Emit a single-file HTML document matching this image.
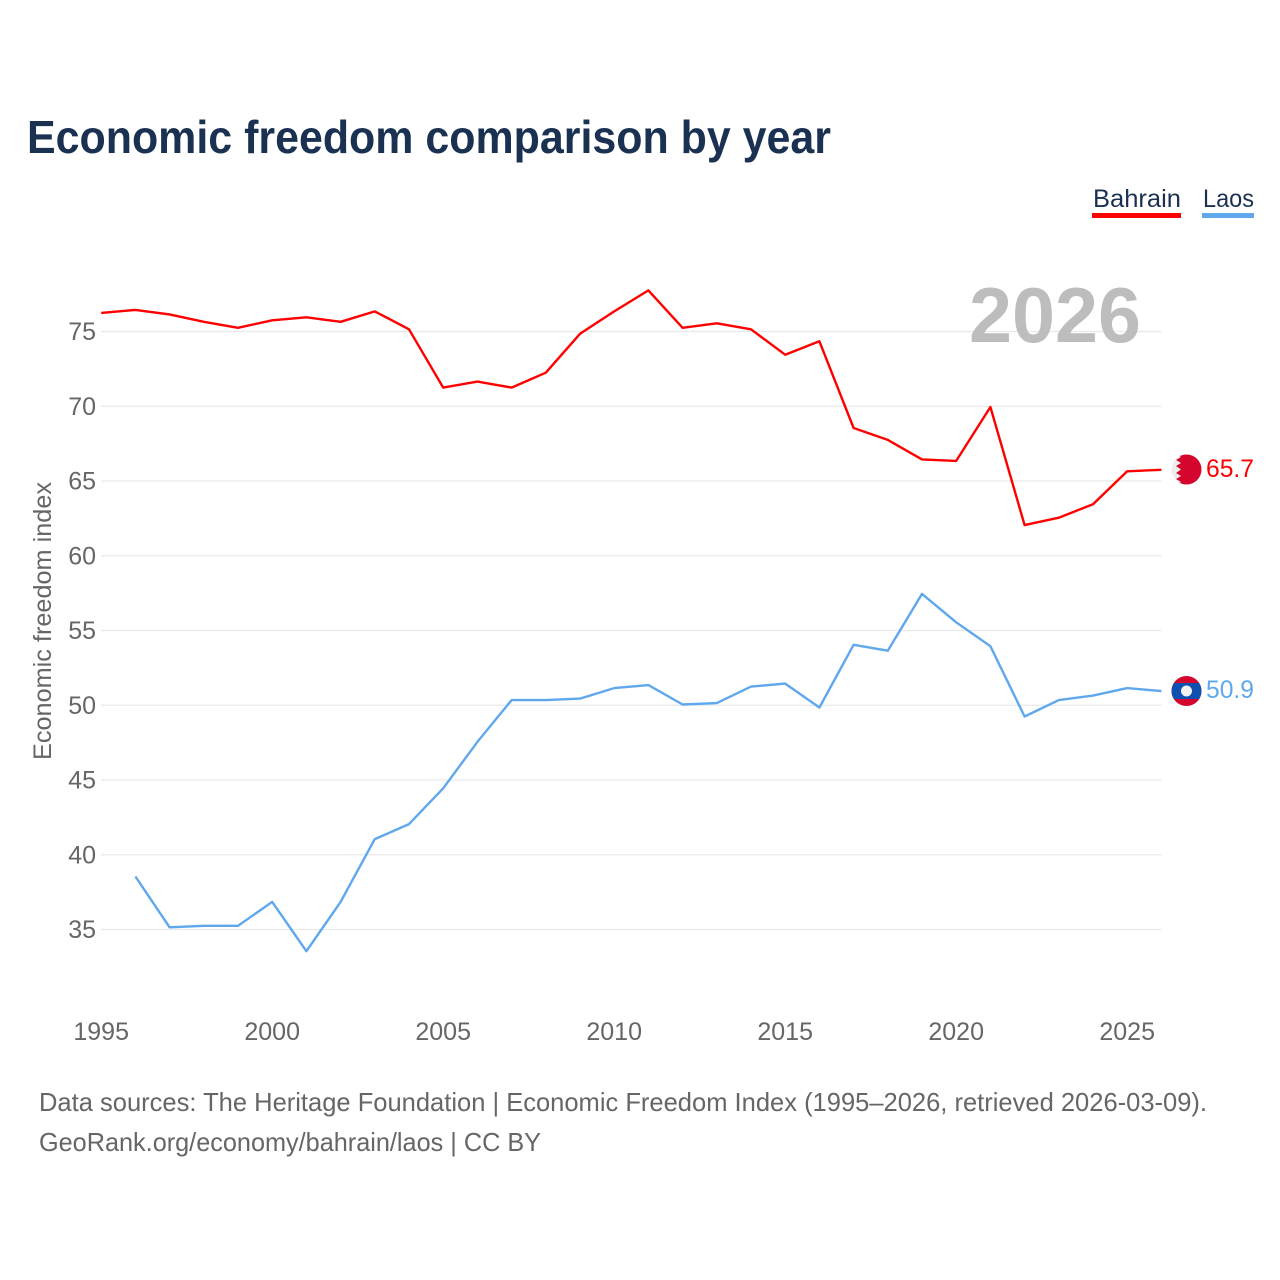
<!DOCTYPE html>
<html lang="en">
<head>
<meta charset="utf-8">
<title>Economic freedom comparison by year</title>
<style>
html,body{margin:0;padding:0;background:#fff;width:1280px;height:1280px;overflow:hidden}
svg{display:block}
text{font-family:"Liberation Sans",sans-serif}
</style>
</head>
<body>
<svg id="chart" xmlns="http://www.w3.org/2000/svg" width="1280" height="1280" viewBox="0 0 1280 1280">
  <defs>
    <clipPath id="clip-bahrain"><circle cx="1186.5" cy="469.5" r="15"/></clipPath>
    <clipPath id="clip-laos"><circle cx="1186.5" cy="691" r="15"/></clipPath>
  </defs>
  <rect width="1280" height="1280" fill="#fff"/>
  <text x="27" y="153" font-size="46" font-weight="700" fill="#1a3152" textLength="804" lengthAdjust="spacingAndGlyphs">Economic freedom comparison by year</text>

  <g>
    <text x="1093" y="207" font-size="25" fill="#1a3152" textLength="88" lengthAdjust="spacingAndGlyphs">Bahrain</text>
    <rect x="1092" y="213" width="89" height="5" fill="#ff0000"/>
  </g>
  <g>
    <text x="1203" y="207" font-size="25" fill="#1a3152" textLength="51" lengthAdjust="spacingAndGlyphs">Laos</text>
    <rect x="1202" y="213" width="52" height="5" fill="#5fa8ee"/>
  </g>

  <g id="grid"></g>
  <g id="y-labels"></g>
  <g id="x-labels"></g>

  <text transform="translate(51,621) rotate(-90)" text-anchor="middle" font-size="25" fill="#666" textLength="278" lengthAdjust="spacingAndGlyphs">Economic freedom index</text>

  <text id="year-watermark" x="969" y="342" font-size="78" font-weight="700" fill="#bdbdbd" textLength="172" lengthAdjust="spacingAndGlyphs">2026</text>

  <polyline id="line-bahrain" fill="none" stroke="#ff0000" stroke-width="2.4" stroke-linejoin="round"/>
  <polyline id="line-laos" fill="none" stroke="#5fa8ee" stroke-width="2.4" stroke-linejoin="round"/>

  <g clip-path="url(#clip-bahrain)">
    <rect x="1171" y="454" width="31" height="31" fill="#eeeeee"/>
    <polygon fill="#d4062e" points="1202,454 1176,454 1181,457 1176,460 1181,463 1176,466 1181,469.5 1176,473 1181,476 1176,479 1181,482 1176,485 1202,485"/>
  </g>
  <g clip-path="url(#clip-laos)">
    <rect x="1171" y="675" width="31" height="32" fill="#d4062e"/>
    <rect x="1171" y="683" width="31" height="16" fill="#0f4fb0"/>
    <circle cx="1186.5" cy="691" r="5.5" fill="#f2f2f2"/>
  </g>

  <text id="value-bahrain" x="1206" y="477" font-size="25" fill="#ff0000" textLength="48" lengthAdjust="spacingAndGlyphs"></text>
  <text id="value-laos" x="1206" y="698" font-size="25" fill="#5fa8ee" textLength="48" lengthAdjust="spacingAndGlyphs"></text>

  <text x="39" y="1111" font-size="26" fill="#666" textLength="1168" lengthAdjust="spacingAndGlyphs">Data sources: The Heritage Foundation | Economic Freedom Index (1995–2026, retrieved 2026-03-09).</text>
  <text x="39" y="1151" font-size="26" fill="#666" textLength="502" lengthAdjust="spacingAndGlyphs">GeoRank.org/economy/bahrain/laos | CC BY</text>
</svg>
<script>
var years = [1995,1996,1997,1998,1999,2000,2001,2002,2003,2004,2005,2006,2007,2008,2009,2010,2011,2012,2013,2014,2015,2016,2017,2018,2019,2020,2021,2022,2023,2024,2025,2026];
var bahrainValues = [76.2,76.4,76.1,75.6,75.2,75.7,75.9,75.6,76.3,75.1,71.2,71.6,71.2,72.2,74.8,76.3,77.7,75.2,75.5,75.1,73.4,74.3,68.5,67.7,66.4,66.3,69.9,62.0,62.5,63.4,65.6,65.7];
var laosValues = [null,38.5,35.1,35.2,35.2,36.8,33.5,36.8,41.0,42.0,44.4,47.5,50.3,50.3,50.4,51.1,51.3,50.0,50.1,51.2,51.4,49.8,54.0,53.6,57.4,55.5,53.9,49.2,50.3,50.6,51.1,50.9];
var yTicks = [35,40,45,50,55,60,65,70,75];
var xTicks = [1995,2000,2005,2010,2015,2020,2025];

var SVG_NS = 'http://www.w3.org/2000/svg';
function xScale(year){ return 101.2 + (year - 1995) * 34.2; }
function yScale(value){ return 331.5 + (75 - value) * 14.95; }

var gridGroup = document.getElementById('grid');
var yLabelGroup = document.getElementById('y-labels');
var xLabelGroup = document.getElementById('x-labels');

yTicks.forEach(function(tick){
  var line = document.createElementNS(SVG_NS, 'line');
  
  
  line.setAttribute('x1', xScale(1995));
  line.setAttribute('x2', xScale(2026));
  line.setAttribute('y1', yScale(tick));
  line.setAttribute('y2', yScale(tick));
  line.setAttribute('stroke', '#e9e9e9');
  line.setAttribute('stroke-width', '1.3');
  gridGroup.appendChild(line);

  var label = document.createElementNS(SVG_NS, 'text');
  
  
  label.setAttribute('x', 96);
  label.setAttribute('y', yScale(tick) + 8.5);
  label.setAttribute('text-anchor', 'end');
  label.setAttribute('font-size', '25');
  label.setAttribute('fill', '#666');
  label.textContent = tick;
  yLabelGroup.appendChild(label);
});

xTicks.forEach(function(tick){
  var label = document.createElementNS(SVG_NS, 'text');
  
  
  label.setAttribute('x', xScale(tick));
  label.setAttribute('y', 1040);
  label.setAttribute('text-anchor', 'middle');
  label.setAttribute('font-size', '25');
  label.setAttribute('fill', '#666');
  label.textContent = tick;
  xLabelGroup.appendChild(label);
});

function linePoints(values){
  var points = [];
  values.forEach(function(value, i){
    if (value !== null) { points.push(xScale(years[i]).toFixed(1) + ',' + (yScale(value) - 0.7).toFixed(1)); }
  });
  return points.join(' ');
}
document.getElementById('line-bahrain').setAttribute('points', linePoints(bahrainValues));
document.getElementById('line-laos').setAttribute('points', linePoints(laosValues));
document.getElementById('value-bahrain').textContent = bahrainValues[bahrainValues.length - 1].toFixed(1);
document.getElementById('value-laos').textContent = laosValues[laosValues.length - 1].toFixed(1);
document.getElementById('year-watermark').textContent = years[years.length - 1];
</script>
</body>
</html>
